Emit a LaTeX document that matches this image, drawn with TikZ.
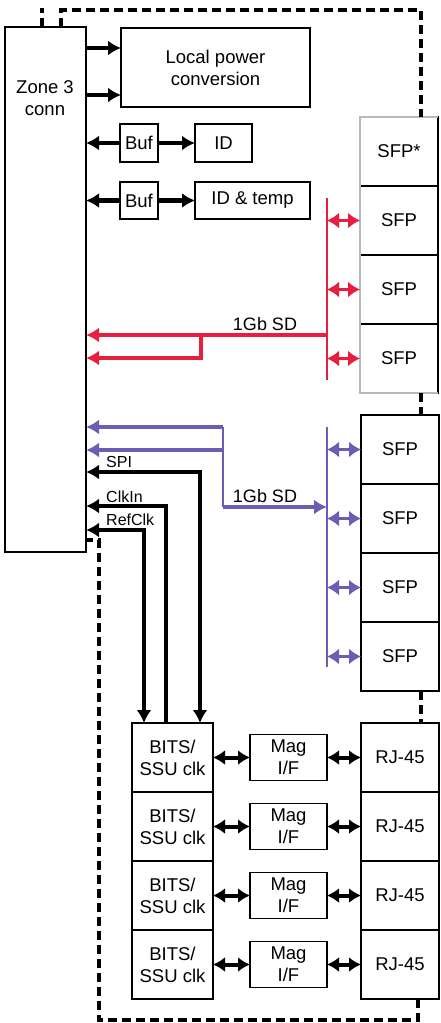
\documentclass[tikz,border=0pt]{standalone}
\usepackage{fontspec}
\setmainfont{Liberation Sans}
\usetikzlibrary{arrows.meta,positioning}
\definecolor{sdred}{RGB}{232,30,62}
\definecolor{sdblue}{RGB}{104,94,178}

\begin{document}
\begin{tikzpicture}[x=1pt, y=-1pt,
  box/.style={rectangle, draw, line width=1.5pt, align=center, inner sep=0pt,
              outer sep=0pt, font=\fontsize{18.5}{22}\selectfont},
  cell/.style={box, minimum width=78pt, minimum height=69pt},
  bits/.style={box, minimum width=81pt, minimum height=69pt},
  mag/.style={box, minimum width=77pt, minimum height=46pt},
  sig/.style={inner sep=0pt, anchor=base west, font=\fontsize{16}{18}\selectfont},
  busl/.style={inner sep=0pt, anchor=base, font=\fontsize{18}{20}\selectfont},
  arr/.style={line width=4.5pt, -{Latex[length=13pt, width=15pt]}},
  arrboth/.style={line width=4.5pt, {Latex[length=13pt, width=15pt]}-{Latex[length=13pt, width=15pt]}},
  arrs/.style={line width=4pt, {Latex[length=12pt, width=15pt]}-{Latex[length=12pt, width=15pt]}},
  rarr/.style={sdred, line width=4.5pt, -{Latex[length=13pt, width=15pt]}},
  rarrs/.style={sdred, line width=3.5pt, {Latex[length=12pt, width=16pt]}-{Latex[length=12pt, width=16pt]}},
  barr/.style={sdblue, line width=4pt, -{Latex[length=13pt, width=15pt]}},
  barrs/.style={sdblue, line width=3.5pt, {Latex[length=12pt, width=16pt]}-{Latex[length=12pt, width=16pt]}},
  bus/.style={line width=2pt},
  dsh/.style={line width=3.5pt, dash pattern=on 9pt off 5pt}]
  \useasboundingbox (0,0) rectangle (441,1023);
  % connector and local blocks
  \node[box, anchor=north west, minimum width=81pt, minimum height=525pt] (zone) at (5,27) {};
  \node[box, draw=none] (zonetxt) at (45,98) {Zone 3\\conn};
  \node[box, anchor=north west, minimum width=189pt, minimum height=79pt] (power) at (121,28) {Local power\\conversion};
  \node[box, anchor=north west, minimum width=38pt, minimum height=38pt] (buf1) at (120,124) {Buf};
  \node[box, anchor=north west, minimum width=57pt, minimum height=38pt] (id1) at (195,124) {ID};
  \node[box, anchor=north west, minimum width=38pt, minimum height=37pt] (buf2) at (120,182) {Buf};
  \node[box, anchor=north west, minimum width=115pt, minimum height=37pt] (id2) at (195,182) {ID \& temp};
  % SFP cages
  \node[cell, anchor=north west] (sfp1) at (360,117) {SFP*};
  \node[cell, below=0pt of sfp1] (sfp2) {SFP};
  \node[cell, below=0pt of sfp2] (sfp3) {SFP};
  \node[cell, below=0pt of sfp3] (sfp4) {SFP};
  \draw[gray!55, line width=1.5pt] (sfp1.north east) -- (sfp1.north west) -- (sfp4.south west) -- (sfp4.south east);
  \node[cell, anchor=north west] (sfp5) at (361,415) {SFP};
  \node[cell, below=0pt of sfp5] (sfp6) {SFP};
  \node[cell, below=0pt of sfp6] (sfp7) {SFP};
  \node[cell, below=0pt of sfp7] (sfp8) {SFP};
  % BITS rows
  \node[bits, anchor=north west] (bits1) at (132,723) {BITS/\\SSU clk};
  \node[bits, below=0pt of bits1] (bits2) {BITS/\\SSU clk};
  \node[bits, below=0pt of bits2] (bits3) {BITS/\\SSU clk};
  \node[bits, below=0pt of bits3] (bits4) {BITS/\\SSU clk};
  \foreach \n in {1,...,4} {
    \node[mag, right=37pt of bits\n] (mag\n) {Mag\\I/F};
    \node[cell, right=34pt of mag\n] (rj\n) {RJ-45};
    \draw[arrs] (bits\n) -- (mag\n);
    \draw[arrs] (mag\n) -- (rj\n);
  }
  % power and ID
  \coordinate (pwa) at (0,48);
  \coordinate (pwb) at (0,95);
  \draw[arr] (zone.east |- pwa) -- (power.west |- pwa);
  \draw[arr] (zone.east |- pwb) -- (power.west |- pwb);
  \draw[arr] (buf1) -- (zone.east |- buf1);
  \draw[arr] (buf1) -- (id1);
  \draw[arr] (buf2) -- (zone.east |- buf2);
  \draw[arr] (buf2) -- (id2);
  % red SerDes
  \coordinate (rtop) at (327,198);
  \coordinate (rbot) at (327,380);
  \draw[sdred, bus] (rtop) -- (rbot);
  \foreach \n in {2,3,4}
    \draw[rarrs] (sfp\n.west -| rtop) -- (sfp\n.west);
  \coordinate (rjoin) at (327,335);
  \coordinate (rsplit) at (201,335);
  \coordinate (rlow) at (201,358);
  \draw[sdred, line width=3.5pt] (rjoin) -- (rsplit);
  \draw[rarr] (rsplit) -- (zone.east |- rsplit);
  \draw[rarr] (rsplit) -- (rlow) -- (zone.east |- rlow);
  \node[busl] (redlbl) at (265,330) {1Gb SD};
  % blue SerDes
  \coordinate (btop) at (327,427);
  \coordinate (bbot) at (327,667);
  \draw[sdblue, bus] (btop) -- (bbot);
  \foreach \n in {5,...,8}
    \draw[barrs] (sfp\n.west -| btop) -- (sfp\n.west);
  \coordinate (bsplit) at (223,427);
  \coordinate (bmid) at (223,450);
  \coordinate (bjoin) at (223,507);
  \draw[sdblue, bus] (bsplit) -- (bjoin);
  \draw[barr] (bjoin) -- (btop |- bjoin);
  \draw[barr] (bsplit) -- (zone.east |- bsplit);
  \draw[barr] (bmid) -- (zone.east |- bmid);
  \node[busl] (bluelbl) at (265,502) {1Gb SD};
  % clocks
  \coordinate (spi) at (200,472);
  \coordinate (clkin) at (166,506);
  \coordinate (refclk) at (144,530);
  \draw[arrboth] (zone.east |- spi) -- (spi) -- (spi |- bits1.north);
  \draw[arr] (clkin |- bits1.north) -- (clkin) -- (zone.east |- clkin);
  \draw[arrboth] (zone.east |- refclk) -- (refclk) -- (refclk |- bits1.north);
  \node[sig] (spilbl) at (106,467) {SPI};
  \node[sig] (clkinlbl) at (106,502) {ClkIn};
  \node[sig] (refclklbl) at (106,525) {RefClk};
  % ground / shield
  \coordinate (dS) at (42,8);
  \coordinate (dA) at (61,10);
  \coordinate (dB) at (421,10);
  \coordinate (dC) at (418,1020);
  \coordinate (dD) at (99,1020);
  \coordinate (dE) at (99,540);
  \draw[dsh] (dS |- zone.north) -- (dS);
  \draw[dsh] (dA |- zone.north) -- (dA) -- (dB) -- (dB |- sfp1.north);
  \draw[dsh] (dB |- sfp4.south) -- (dB |- sfp5.north);
  \draw[dsh] (dB |- sfp8.south) -- (dB |- rj1.north);
  \draw[dsh] (dC |- rj4.south) -- (dC) -- (dD) -- (dE) -- (zone.east |- dE);
\end{tikzpicture}
\end{document}
